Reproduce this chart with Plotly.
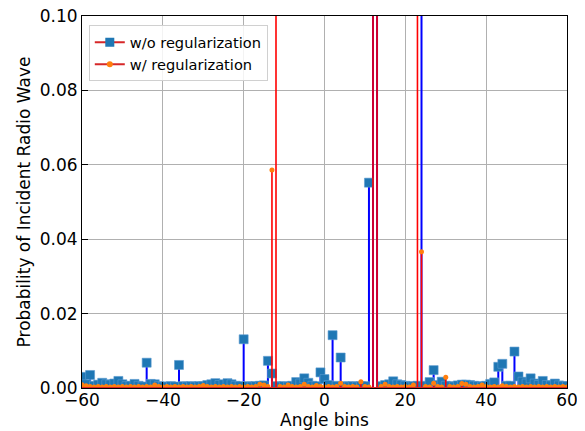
import plotly.graph_objects as go

angle_bins = list(range(-60, 61))

# Probability without regularization (>0.1 are off-scale peaks)
wo_reg = [
    0.0030, 0.0010, 0.0035, 0.0006, 0.0009, 0.0014, 0.0010, 0.0009, 0.0012, 0.0019,  # -60..-51
    0.0010, 0.0005, 0.0006, 0.0011, 0.0006, 0.0004, 0.0068, 0.0011, 0.0010, 0.0005,  # -50..-41
    0.0004, 0.0004, 0.0005, 0.0004, 0.0062, 0.0005, 0.0004, 0.0005, 0.0004, 0.0005,  # -40..-31
    0.0005, 0.0008, 0.0010, 0.0013, 0.0008, 0.0010, 0.0013, 0.0010, 0.0006, 0.0005,  # -30..-21
    0.0131, 0.0005, 0.0004, 0.0005, 0.0006, 0.0007, 0.0073, 0.0039, 0.0005, 0.0004,  # -20..-11
    0.0005, 0.0004, 0.0006, 0.0016, 0.0012, 0.0026, 0.0014, 0.0006, 0.0005, 0.0042,  # -10..-1
    0.0024, 0.0008, 0.0142, 0.0006, 0.0082, 0.0005, 0.0004, 0.0005, 0.0004, 0.0005,  # 0..9
    0.0005, 0.0552, 0.2400, 0.2100, 0.0005, 0.0008, 0.0010, 0.0018, 0.0010, 0.0008,  # 10..19
    0.0006, 0.0004, 0.0005, 0.0006, 0.1900, 0.0006, 0.0016, 0.0048, 0.0008, 0.0017,  # 20..29
    0.0006, 0.0005, 0.0004, 0.0007, 0.0009, 0.0009, 0.0008, 0.0006, 0.0005, 0.0004,  # 30..39
    0.0006, 0.0011, 0.0015, 0.0057, 0.0065, 0.0006, 0.0006, 0.0098, 0.0031, 0.0017,  # 40..49
    0.0012, 0.0026, 0.0012, 0.0008, 0.0019, 0.0008, 0.0007, 0.0012, 0.0007, 0.0005,  # 50..59
    0.0005,                                                                          # 60
]

# Probability with regularization
w_reg = [
    0.0009, 0.0006, 0.0004, 0.0003, 0.0004, 0.0003, 0.0004, 0.0003, 0.0004, 0.0003,  # -60..-51
    0.0004, 0.0003, 0.0004, 0.0003, 0.0004, 0.0003, 0.0004, 0.0003, 0.0008, 0.0004,  # -50..-41
    0.0003, 0.0004, 0.0003, 0.0004, 0.0003, 0.0004, 0.0003, 0.0004, 0.0003, 0.0004,  # -40..-31
    0.0007, 0.0004, 0.0003, 0.0004, 0.0003, 0.0004, 0.0003, 0.0004, 0.0003, 0.0004,  # -30..-21
    0.0003, 0.0004, 0.0003, 0.0004, 0.0010, 0.0008, 0.0004, 0.0586, 0.2100, 0.0004,  # -20..-11
    0.0003, 0.0008, 0.0004, 0.0003, 0.0004, 0.0010, 0.0004, 0.0003, 0.0007, 0.0004,  # -10..-1
    0.0003, 0.0004, 0.0003, 0.0004, 0.0013, 0.0004, 0.0003, 0.0004, 0.0003, 0.0017,  # 0..9
    0.0004, 0.0003, 0.2600, 0.2300, 0.0004, 0.0010, 0.0004, 0.0003, 0.0004, 0.0003,  # 10..19
    0.0004, 0.0003, 0.0008, 0.1800, 0.0366, 0.0004, 0.0003, 0.0013, 0.0004, 0.0003,  # 20..29
    0.0029, 0.0004, 0.0003, 0.0004, 0.0012, 0.0010, 0.0004, 0.0003, 0.0004, 0.0008,  # 30..39
    0.0004, 0.0003, 0.0004, 0.0003, 0.0006, 0.0004, 0.0003, 0.0004, 0.0003, 0.0004,  # 40..49
    0.0003, 0.0004, 0.0003, 0.0004, 0.0003, 0.0004, 0.0003, 0.0004, 0.0003, 0.0004,  # 50..59
    0.0003,                                                                          # 60
]

series_names = ["w/o regularization", "w/ regularization"]
x_ticks = [-60, -40, -20, 0, 20, 40, 60]
x_tick_labels = ["\u221260", "\u221240", "\u221220", "0", "20", "40", "60"]
y_ticks = [0.0, 0.02, 0.04, 0.06, 0.08, 0.10]


def stem_xy(xs, ys):
    sx, sy = [], []
    for a, b in zip(xs, ys):
        sx += [a, a, None]
        sy += [0, b, None]
    return sx, sy


FONT = "DejaVu Sans"
BLUE_STEM = "#0000ff"
RED_STEM = "#ff0000"
BASE = "#d62728"
C0 = "#1f77b4"
C1 = "#ff7f0e"

fig = go.Figure()

# --- series 1: w/o regularization
sx, sy = stem_xy(angle_bins, wo_reg)
fig.add_trace(go.Scatter(x=sx, y=sy, mode="lines", line=dict(color=BLUE_STEM, width=2.0),
                         showlegend=False, hoverinfo="skip"))
fig.add_trace(go.Scatter(x=angle_bins, y=wo_reg, mode="markers",
                         marker=dict(symbol="square", size=9, color=C0,
                                     line=dict(width=0.6, color="#5a9bd0")),
                         showlegend=False))
fig.add_trace(go.Scatter(x=[angle_bins[0], angle_bins[-1]], y=[0, 0], mode="lines",
                         line=dict(color=BASE, width=1.8), showlegend=False, hoverinfo="skip"))

# --- series 2: w/ regularization
sx, sy = stem_xy(angle_bins, w_reg)
fig.add_trace(go.Scatter(x=sx, y=sy, mode="lines", line=dict(color=RED_STEM, width=1.6),
                         showlegend=False, hoverinfo="skip"))
fig.add_trace(go.Scatter(x=angle_bins, y=w_reg, mode="markers",
                         marker=dict(symbol="circle", size=5, color=C1, line=dict(width=0)),
                         showlegend=False))
fig.add_trace(go.Scatter(x=[angle_bins[0], angle_bins[-1]], y=[0, 0], mode="lines",
                         line=dict(color=BASE, width=1.8), showlegend=False, hoverinfo="skip"))

# --- legend proxies
fig.add_trace(go.Scatter(x=[None], y=[None], mode="lines+markers", name=series_names[0],
                         line=dict(color=BASE, width=2),
                         marker=dict(symbol="square", size=9, color=C0)))
fig.add_trace(go.Scatter(x=[None], y=[None], mode="lines+markers", name=series_names[1],
                         line=dict(color=BASE, width=2),
                         marker=dict(symbol="circle", size=6, color=C1)))

axis_common = dict(
    showline=True, linecolor="black", linewidth=1, mirror=True,
    ticks="inside", ticklen=6, tickwidth=1, tickcolor="black",
    showgrid=True, gridcolor="#b0b0b0", gridwidth=0.8, zeroline=False,
    tickfont=dict(family=FONT, size=17, color="black"),
    automargin=False, ticklabeloverflow="allow",
)

fig.update_layout(
    width=585, height=431,
    margin=dict(l=74, r=26, t=8, b=51),
    paper_bgcolor="white", plot_bgcolor="white",
    font=dict(family=FONT, size=17, color="black"),
    xaxis=dict(range=[-60, 60], tickvals=x_ticks, ticktext=x_tick_labels,
               ticklabelstandoff=-3,
               title=dict(text="Angle bins", font=dict(family=FONT, size=17), standoff=0),
               **axis_common),
    yaxis=dict(range=[0, 0.1], tickvals=y_ticks, tickformat=".2f",
               title=dict(text="Probability of Incident Radio Wave", font=dict(family=FONT, size=17), standoff=4),
               **axis_common),
    legend=dict(x=0.014, y=0.975, xanchor="left", yanchor="top",
                bgcolor="rgba(255,255,255,0.85)", bordercolor="#d0d0d0", borderwidth=1,
                font=dict(family=FONT, size=14.6, color="black"), itemwidth=30,
                tracegroupgap=0),
    showlegend=True,
)

fig.write_html("out.html")
